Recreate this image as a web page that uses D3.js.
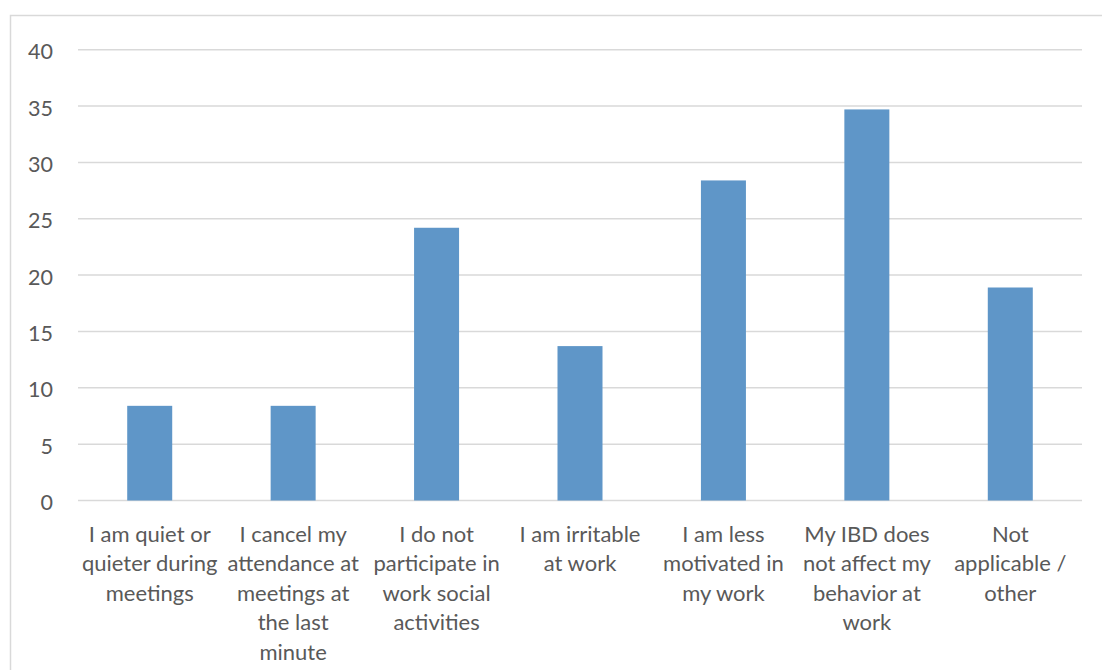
<!DOCTYPE html>
<html><head><meta charset="utf-8">
<script src="https://cdn.jsdelivr.net/npm/d3@7"></script>
<style>html,body{margin:0;padding:0;background:#fff;}svg{display:block;}</style>
</head><body>
<svg id="chart" width="1102" height="670"></svg>
<script>
const categories = [
  ["I am quiet or","quieter during","meetings"],
  ["I cancel my","attendance at","meetings at","the last","minute"],
  ["I do not","participate in","work social","activities"],
  ["I am irritable","at work"],
  ["I am less","motivated in","my work"],
  ["My IBD does","not affect my","behavior at","work"],
  ["Not","applicable /","other"]
];
const values = [8.4, 8.4, 24.2, 13.7, 28.4, 34.7, 18.9];
const yTicks = [0,5,10,15,20,25,30,35,40];

(function(){
const svg = d3.select("#chart");
const mLeft = 78, mRight = 1082, mTop = 49.7, mBottom = 500.5;
const font = "Lato, 'Open Sans', sans-serif";

svg.append("rect").attr("x",10.5).attr("y",15.5).attr("width",1200).attr("height",800)
  .attr("fill","#fff").attr("stroke","#d9d9d9").attr("stroke-width",1.5);

const x = d3.scaleBand().domain(d3.range(categories.length)).range([mLeft,mRight]).paddingInner(0).paddingOuter(0);
const y = d3.scaleLinear().domain([0,40]).range([mBottom,mTop]);
const barW = 45;

svg.append("g").selectAll("line").data(yTicks).join("line")
  .attr("x1",mLeft).attr("x2",mRight)
  .attr("y1",d=>y(d)).attr("y2",d=>y(d))
  .attr("stroke","#d9d9d9").attr("stroke-width",1.5);

const yAxis = d3.axisLeft(y).tickValues(yTicks).tickSize(0).tickPadding(0);
const yg = svg.append("g").attr("transform","translate(53,0)").call(yAxis);
yg.select(".domain").remove();
yg.selectAll("text").attr("font-family",font).attr("font-size",21.5).attr("fill","#595959").attr("dy","0.42em");

svg.append("g").selectAll("rect").data(values).join("rect")
  .attr("x",(d,i)=>x(i)+x.bandwidth()/2-barW/2)
  .attr("width",barW)
  .attr("y",d=>y(d))
  .attr("height",d=>y(0)-y(d))
  .attr("fill","#5f96c8");

const xg = svg.append("g");
categories.forEach((lines,i)=>{
  const t = xg.append("text").attr("text-anchor","middle")
    .attr("font-family",font).attr("font-size",22).attr("fill","#595959");
  lines.forEach((ln,j)=>{
    t.append("tspan").attr("x",x(i)+x.bandwidth()/2).attr("y",541.5+j*29.6).text(ln);
  });
});
})();
</script>
</body></html>
